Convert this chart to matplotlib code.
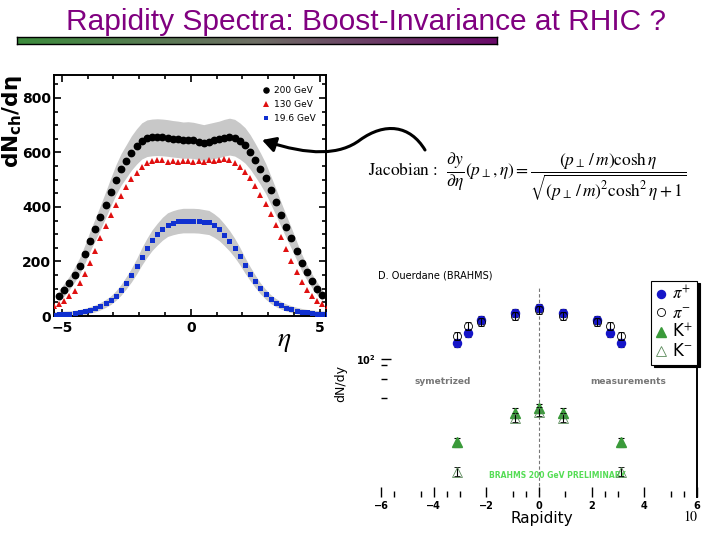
import numpy as np
import matplotlib
matplotlib.use("Agg")
import matplotlib.pyplot as plt
from matplotlib.path import Path
from matplotlib.patches import FancyArrowPatch
from matplotlib.ticker import MultipleLocator, FixedLocator, NullFormatter
from matplotlib.colors import LinearSegmentedColormap

# ---- left panel: PHOBOS dN/deta ----
eta_200 = np.round(np.arange(-5.1, 5.11, 0.2), 2)
dn_200 = [75, 97, 122, 152, 185, 228, 275, 318, 362, 408, 455, 500, 538,
          568, 598, 622, 642, 652, 655, 656, 655, 653, 650, 648, 645, 646,
          644, 640, 636, 640, 644, 648, 654, 658, 654, 642, 626, 602, 572,
          540, 505, 462, 418, 372, 328, 285, 240, 196, 160, 128, 100, 77]

eta_130 = np.round(np.arange(-5.3, 5.31, 0.2), 2)
dn_130 = [35, 45, 56, 72, 92, 120, 155, 195, 240, 285, 330, 372, 408, 442,
          475, 502, 525, 545, 560, 570, 574, 572, 566, 570, 566, 570, 568,
          566, 570, 565, 572, 568, 572, 575, 572, 562, 546, 528, 505, 478,
          445, 410, 375, 335, 290, 245, 200, 160, 125, 96, 74, 55, 44, 36]

eta_19 = np.round(np.arange(-5.3, 5.31, 0.2), 2)
dn_19 = [5, 6, 7, 8, 10, 13, 17, 22, 28, 36, 46, 58, 75, 96, 122, 150, 182,
         218, 250, 278, 300, 320, 335, 342, 347, 350, 350, 350, 349, 346,
         343, 332, 318, 298, 276, 250, 220, 186, 155, 127, 101, 80, 62, 49,
         39, 31, 25, 20, 16, 13, 11, 9, 8, 7]

# systematic band: relative part + constant part
band_200 = (0.08, 15)
band_19 = (0.10, 10)

# ---- right panel: BRAHMS dN/dy ----
rap_pi = [-3.1, -2.7, -2.2, -0.9, 0.0, 0.9, 2.2, 2.7, 3.1]
pi_plus = [133, 159, 200, 226, 247, 226, 200, 159, 133]
pi_minus = [150, 179, 194, 214, 238, 214, 194, 179, 150]
rap_k = [-3.1, -0.9, 0.0, 0.9, 3.1]
k_plus = [23.0, 38.6, 41.8, 38.6, 23.0]
k_minus = [13.6, 35.5, 39.4, 35.5, 13.6]

W, H = 720, 540


def fx(px):
    return px / W


def fy(py):
    return 1 - py / H


fig = plt.figure(figsize=(7.2, 5.4), dpi=100)

# title + gradient rule
fig.text(fx(366), fy(22), "Rapidity Spectra: Boost-Invariance at RHIC ?",
         ha="center", va="center", fontsize=21.5, color="#800080",
         family=["Liberation Sans Narrow", "Liberation Sans", "DejaVu Sans"])
bar = fig.add_axes([fx(17), fy(44), fx(480), 7 / H])
cmap = LinearSegmentedColormap.from_list("rule", ["#3c8c3c", "#6e6e64", "#6a0a6a"])
bar.imshow(np.linspace(0, 1, 256)[None, :], aspect="auto", cmap=cmap)
bar.set_xticks([])
bar.set_yticks([])
for s in bar.spines.values():
    s.set_linewidth(1.0)

# ---------- left panel ----------
ax1 = fig.add_axes([fx(54), fy(316), fx(272), 241 / H])
v200 = np.array(dn_200, dtype=float)
v19 = np.array(dn_19, dtype=float)
e200 = band_200[0] * v200 + band_200[1]
e19 = band_19[0] * v19 + band_19[1]
ax1.fill_between(eta_200, v200 - e200, v200 + e200, color="#c8c8c8", lw=0, zorder=1)
ax1.fill_between(eta_19, v19 - e19, v19 + e19, color="#c8c8c8", lw=0, zorder=1)
ax1.plot(eta_200, dn_200, "o", color="black", ms=4.6, label="200 GeV", zorder=3)
ax1.plot(eta_130, dn_130, "^", color="#e01010", ms=4.6, mew=0, label="130 GeV", zorder=3)
ax1.plot(eta_19, dn_19, "s", color="#1030d0", ms=3.6, mew=0, label="19.6 GeV", zorder=3)
ax1.set_xlim(-5.3, 5.24)
ax1.set_ylim(0, 884)
ax1.xaxis.set_major_locator(FixedLocator([-5, 0, 5]))
ax1.xaxis.set_minor_locator(MultipleLocator(1))
ax1.yaxis.set_major_locator(MultipleLocator(200))
ax1.yaxis.set_minor_locator(MultipleLocator(50))
ax1.tick_params(which="both", direction="in", top=True, right=True, width=1.2)
ax1.tick_params(which="major", length=5, labelsize=10)
ax1.tick_params(which="minor", length=3)
ax1.tick_params(axis="y", pad=2)
for lab in ax1.get_xticklabels() + ax1.get_yticklabels():
    lab.set_fontweight("bold")
for s in ax1.spines.values():
    s.set_linewidth(1.4)
ax1.legend(loc="upper right", frameon=False, fontsize=6.5, handlelength=0.8,
           handletextpad=0.5, labelspacing=0.55, borderaxespad=0.4,
           bbox_to_anchor=(0.99, 0.985), markerscale=0.8)
fig.text(fx(12), fy(75), r"$\mathbf{dN_{ch}/d\eta}$", rotation=90, ha="center",
         va="top", fontsize=15.5)
fig.text(fx(284), fy(340), r"$\eta$", ha="center", va="center", fontsize=20,
         math_fontfamily="stix")

# ---------- right panel ----------
ax2 = fig.add_axes([fx(381), fy(497), fx(316), 210 / H])
ax2.set_yscale("log")
ax2.set_xlim(-6, 6)
ax2.set_ylim(8.7, 358)
ax2.axvline(0, color="#777777", ls=(0, (3, 2)), lw=0.8, zorder=1)
eb_pp = ax2.errorbar(rap_pi, pi_plus, yerr=[0.07 * v for v in pi_plus], fmt="o",
                     color="#1515c8", ms=5.8, ecolor="black", elinewidth=0.8, capsize=2,
                     capthick=0.8, zorder=3)
eb_pm = ax2.errorbar(rap_pi, pi_minus, yerr=[0.07 * v for v in pi_minus], fmt="o",
                     mfc="none", mec="black", ms=5.8, mew=0.6, ecolor="black",
                     elinewidth=0.8, capsize=2, capthick=0.8, zorder=4)
eb_kp = ax2.errorbar(rap_k, k_plus, yerr=[0.08 * v for v in k_plus], fmt="^",
                     color="#3a9a3a", ms=7, ecolor="black", elinewidth=0.8, capsize=2,
                     capthick=0.8, zorder=3)
eb_km = ax2.errorbar(rap_k, k_minus, yerr=[0.08 * v for v in k_minus], fmt="^",
                     mfc="none", mec="#5a8a5a", ms=7, mew=0.6, ecolor="black",
                     elinewidth=0.8, capsize=2, capthick=0.8, zorder=4)
for side in ["top", "left", "bottom"]:
    ax2.spines[side].set_visible(False)
ax2.spines["right"].set_linewidth(1.4)
ax2.yaxis.set_major_locator(FixedLocator([100]))
ax2.yaxis.set_minor_locator(FixedLocator([90, 70, 50]))
ax2.yaxis.set_minor_formatter(NullFormatter())
ax2.set_yticklabels([r"$\mathbf{10^2}$"])
ax2.xaxis.set_major_locator(MultipleLocator(2))
ax2.xaxis.set_minor_locator(FixedLocator([-5.5, -4.5, -3.5, -3, -1, -0.5, 1, 2.5, 3, 5, 5.5]))
ax2.tick_params(which="both", direction="in", width=1.0)
ax2.tick_params(axis="y", which="major", length=7, labelsize=7, pad=4)
ax2.tick_params(axis="y", which="minor", length=4)
ax2.tick_params(axis="x", which="major", length=7, labelsize=7, pad=3)
ax2.tick_params(axis="x", which="minor", length=4)
for lab in ax2.get_xticklabels():
    lab.set_fontweight("bold")

ax2.text(0.196, 0.548, "symetrized", transform=ax2.transAxes, ha="center", va="center",
         fontsize=6.5, color="#777777", fontweight="bold")
ax2.text(0.781, 0.548, "measurements", transform=ax2.transAxes, ha="center", va="center",
         fontsize=6.5, color="#777777", fontweight="bold")
ax2.text(0.557, 0.1, "BRAHMS 200 GeV PRELIMINARY", transform=ax2.transAxes, ha="center",
         va="center", fontsize=5.5, color="#55dd55", fontweight="bold")

leg2 = ax2.legend([eb_pp[0], eb_pm[0], eb_kp[0], eb_km[0]],
                  [r"$\pi^{+}$", r"$\pi^{-}$", r"K$^{+}$", r"K$^{-}$"],
                  loc="upper right", bbox_to_anchor=(1.0, 1.03), borderaxespad=0,
                  fontsize=12, handlelength=0.6, handletextpad=0.4, labelspacing=0.05,
                  borderpad=0.25, fancybox=False, edgecolor="black",
                  shadow={"color": "black", "alpha": 1})
leg2.get_frame().set_linewidth(0.8)
for t in leg2.get_texts():
    t.set_math_fontfamily("stix")

fig.text(fx(378), fy(275), "D. Ouerdane (BRAHMS)", ha="left", va="center", fontsize=7)
fig.text(fx(341), fy(383), "dN/dy", rotation=90, ha="center", va="center", fontsize=9)
fig.text(fx(542), fy(518), "Rapidity", ha="center", va="center", fontsize=11)
fig.text(fx(690), fy(517), "10", ha="center", va="center", fontsize=10,
         family="STIXGeneral")

# Jacobian formula
fig.text(fx(368), fy(177), "Jacobian :  " +
         r"$\dfrac{\partial y}{\partial \eta}(p_{\perp},\eta) = "
         r"\dfrac{(p_{\perp}\,/\,m)\cosh\eta}{\sqrt{(p_{\perp}\,/\,m)^{2}\cosh^{2}\eta+1}}$",
         ha="left", va="center", fontsize=12.5, family="STIXGeneral",
         math_fontfamily="stix")

# curved arrow pointing at the 200 GeV curve
pts = [(425, 150), (410, 125), (385, 122), (360, 140),
       (340, 155), (310, 156), (262, 140)]
verts = [(fx(x), fy(y)) for x, y in pts]
codes = [Path.MOVETO] + [Path.CURVE4] * 6
arrow = FancyArrowPatch(path=Path(verts, codes), arrowstyle="-|>,head_length=8,head_width=4.5",
                        color="black", lw=2.2, transform=fig.transFigure)
fig.patches.append(arrow)

fig.savefig("out.png", dpi=100)
